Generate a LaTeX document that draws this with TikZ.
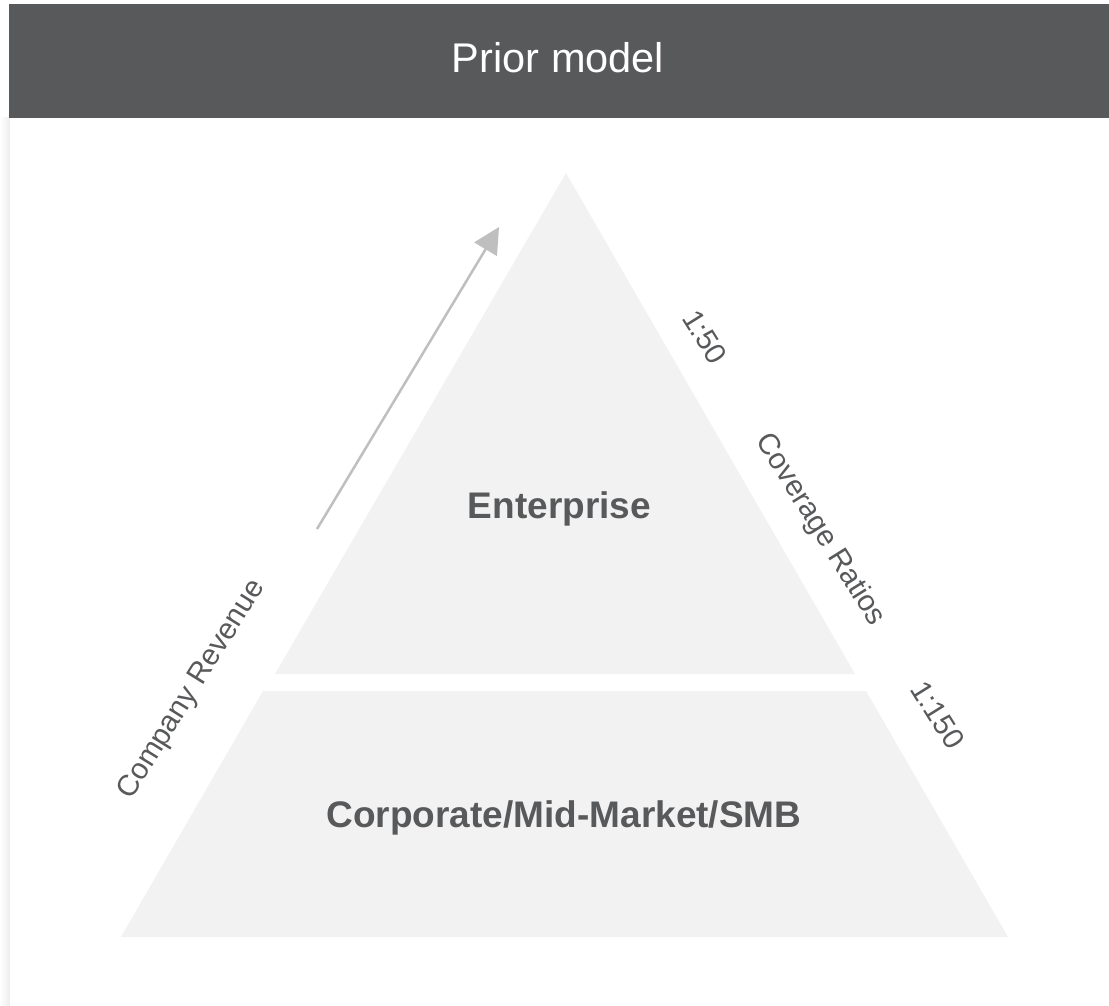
\documentclass[tikz,border=0pt]{standalone}
\usepackage{fontspec}
\setmainfont{Liberation Sans}
\usetikzlibrary{arrows.meta}
\definecolor{hdr}{HTML}{58595B}
\definecolor{tier}{HTML}{F2F2F2}
\definecolor{txt}{HTML}{58595B}
\definecolor{arr}{HTML}{BFBFBF}
\tikzset{
  tierfill/.style={fill=tier, draw=none},
  tiertext/.style={text=txt, font=\fontsize{37}{43}\selectfont\bfseries, inner sep=0pt, anchor=base},
  sidelabel/.style={text=txt, font=\fontsize{29.5}{34}\selectfont, inner sep=0pt},
}
\begin{document}
\begin{tikzpicture}[x=1pt,y=-1pt]
\useasboundingbox (0,0) rectangle (1109,1006);
\fill[white] (0,0) rectangle (1109,1006);
% left faint shadow strip
\shade[left color=white, right color=black!7, draw=none] (0,118) rectangle (9.5,1006);
% header
\fill[hdr] (9,4) rectangle (1109,118);
\node[text=white, font=\fontsize{41.5}{48}\selectfont, inner sep=0pt, anchor=base] (title) at (558,73) {Prior model};
% pyramid
\fill[tierfill] (566,173) -- (855,674) -- (275,674) -- cycle;
\fill[tierfill] (263,691) -- (866,691) -- (1008,937) -- (121,937) -- cycle;
\node[tiertext] (ent) at (559.5,518) {Enterprise};
\node[tiertext] (corp) at (564,827) {Corporate/Mid-Market/SMB};
% arrow
\coordinate (arrS) at (317,529);
\coordinate (arrE) at (499,227);
\draw[arr, line width=2.5pt, -{Triangle[length=26pt,width=26pt]}] (arrS) -- (arrE);
% side labels
\node[sidelabel, rotate=58] (rev) at (192,690) {Company Revenue};
\node[sidelabel, rotate=-58] (cov) at (820,530) {Coverage Ratios};
\node[sidelabel, rotate=-58] (r50) at (705,337) {1:50};
\node[sidelabel, rotate=-58] (r150) at (938,715) {1:150};
\end{tikzpicture}
\end{document}
